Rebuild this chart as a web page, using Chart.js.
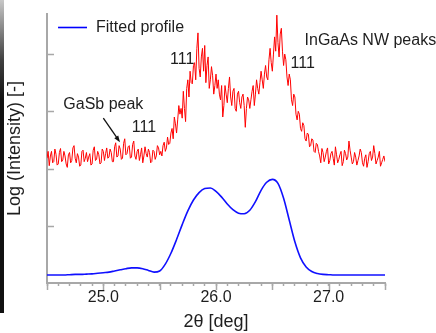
<!DOCTYPE html>
<html>
<head>
<meta charset="utf-8">
<script src="https://cdn.jsdelivr.net/npm/chart.js@4.4.1/dist/chart.umd.min.js"></script>
<style>
  html, body { margin: 0; padding: 0; background: #fff; }
  #wrap { position: relative; width: 436px; height: 333px; }
  #edge { position: absolute; left: 0; top: 0; width: 4px; height: 313px;
          background: linear-gradient(to bottom, #c8c8c8 0px, #404040 60px, #111 100px, #111 100%); }
</style>
</head>
<body>
<div id="wrap">
  <canvas id="grafico" width="436" height="333"></canvas>
  <div id="edge"></div>
</div>
<script>
// Dados (eixo y em unidades arbitrárias de log)
const start2Theta = 24.5;
const stepMeasured = 0.01;
const stepFit = 0.05;

// medido (vermelho), 24.50 .. 27.50 a cada 0.01
const measuredLog = [
  // 24.50 - 25.00
  2.18, 2.30, 2.05, 2.22, 2.30, 2.10, 2.12, 2.34, 2.25, 2.06,
  2.08, 2.28, 2.35, 2.12, 2.15, 2.30, 2.22, 2.08, 2.02, 2.24,
  2.28, 2.10, 2.14, 2.36, 2.40, 2.18, 2.10, 2.26, 2.20, 2.04,
  2.06, 2.30, 2.32, 2.12, 2.18, 2.28, 2.12, 2.20, 2.26, 2.06,
  2.08, 2.32, 2.38, 2.14, 2.16, 2.30, 2.24, 2.08, 2.10, 2.34, 2.30,
  // 25.01 - 25.50
  2.14, 2.26, 2.36, 2.18, 2.20, 2.34, 2.28, 2.12, 2.12, 2.38,
  2.45, 2.20, 2.22, 2.40, 2.34, 2.16, 2.18, 2.44, 2.52, 2.24,
  2.26, 2.38, 2.40, 2.18, 2.20, 2.42, 2.48, 2.22, 2.16, 2.30,
  2.34, 2.14, 2.24, 2.36, 2.10, 2.22, 2.38, 2.26, 2.20, 2.34,
  2.28, 2.10, 2.12, 2.32, 2.30, 2.16, 2.22, 2.40, 2.36, 2.24,
  // 25.51 - 25.70
  2.30, 2.22, 2.40, 2.46, 2.30, 2.36, 2.55, 2.42, 2.44, 2.62,
  2.70, 2.52, 2.90, 2.78, 2.62, 2.85, 3.10, 2.95, 3.05, 2.88,
  // 25.71 - 26.00
  3.35, 3.05, 2.82, 3.40, 3.55, 3.25, 3.70, 3.50, 3.48, 3.80,
  3.85, 3.55, 4.10, 4.37, 3.75, 3.60, 3.95, 4.10, 3.70, 4.15,
  3.50, 3.80, 3.95, 3.40, 3.55, 3.78, 3.62, 3.30, 3.45, 3.65,
  // 26.01 - 26.30
  3.40, 3.55, 3.30, 3.20, 3.45, 2.90, 3.10, 3.45, 3.30, 3.15,
  3.40, 3.60, 3.25, 3.10, 3.35, 3.40, 3.05, 3.00, 3.30, 3.35,
  3.15, 3.05, 3.25, 3.30, 3.10, 2.72, 3.05, 3.25, 3.20, 3.05,
  // 26.31 - 26.60
  3.20, 3.35, 3.45, 3.10, 3.30, 3.55, 3.40, 3.30, 3.50, 3.70,
  3.55, 3.40, 3.65, 3.80, 3.60, 3.55, 3.90, 4.10, 3.85, 3.70,
  4.00, 4.30, 4.05, 4.68, 4.20, 3.95, 4.35, 4.45, 4.05, 3.80,
  // 26.61 - 26.90
  4.00, 3.90, 3.60, 3.45, 3.65, 3.55, 3.20, 3.10, 3.30, 3.25,
  2.95, 2.85, 3.00, 2.95, 2.70, 2.65, 2.80, 2.75, 2.52, 2.48,
  2.62, 2.60, 2.38, 2.40, 2.52, 2.50, 2.30, 2.28, 2.44, 2.42,
  // 26.91 - 27.50
  2.30, 2.22, 2.10, 2.35, 2.28, 2.12, 2.20, 2.30, 2.36, 2.08,
  2.14, 2.26, 2.30, 2.18, 2.06, 2.38, 2.24, 2.10, 2.16, 2.24,
  2.30, 2.05, 2.12, 2.32, 2.26, 2.15, 2.20, 2.48, 2.32, 2.20,
  2.08, 2.12, 2.28, 2.20, 2.06, 2.14, 2.22, 2.34, 2.28, 2.10,
  2.04, 2.18, 2.24, 2.02, 2.12, 2.26, 2.30, 2.14, 2.20, 2.40,
  2.26, 2.08, 2.14, 2.20, 2.30, 2.04, 2.10, 2.16, 2.22, 2.12
];

// perfil ajustado (azul), 24.50 .. 27.50 a cada 0.05
const fittedLog = [
  0.14, 0.14, 0.14, 0.14, 0.145, 0.15, 0.15, 0.155, 0.16, 0.17,
  0.18, 0.19, 0.21, 0.23, 0.25, 0.265, 0.265, 0.25, 0.22, 0.19,
  0.21, 0.33, 0.52, 0.76, 1.02, 1.26, 1.45, 1.58, 1.65, 1.66,
  1.60, 1.50, 1.38, 1.28, 1.22, 1.21, 1.27, 1.42, 1.62, 1.76,
  1.81, 1.74, 1.48, 1.10, 0.72, 0.44, 0.28, 0.20, 0.165, 0.15,
  0.145, 0.14, 0.14, 0.14, 0.14, 0.14, 0.14, 0.14, 0.14, 0.14, 0.14
];

const xTickLabels = [25.0, 26.0, 27.0];
const yTickValues = [1, 2, 3, 4];

const axisGray = '#a8a8a8';
const textColor = '#1e1e1e';
const fontFamily = '"Liberation Sans", Arial, sans-serif';

// anotações em coordenadas dos dados
const notes = [
  { text: 'GaSb peak', x: 25.0, y: 3.11 },
  { text: '111', x: 25.36, y: 2.71 },
  { text: '111', x: 25.70, y: 3.91 },
  { text: '111', x: 26.77, y: 3.83 },
  { text: 'InGaAs NW peaks', x: 27.37, y: 4.24 }
];

function toPoints(values, step) {
  return values.map((v, i) => ({ x: +(start2Theta + i * step).toFixed(2), y: v }));
}

const decorations = {
  id: 'decorations',
  afterDraw(chart) {
    const { ctx, scales: { x, y } } = chart;
    ctx.save();
    ctx.strokeStyle = axisGray;
    ctx.lineWidth = 1.5;
    // ticks do eixo y, para dentro
    ctx.beginPath();
    yTickValues.forEach(v => {
      const py = Math.round(y.getPixelForValue(v)) + 0.5;
      ctx.moveTo(x.left, py);
      ctx.lineTo(x.left + 7, py);
    });
    // ticks maiores a cada 0.5
    x.ticks.forEach(t => {
      if (Math.abs(t.value * 2 - Math.round(t.value * 2)) < 1e-6) {
        const px = Math.round(x.getPixelForValue(t.value)) + 0.5;
        ctx.moveTo(px, y.bottom);
        ctx.lineTo(px, y.bottom + 7);
      }
    });
    ctx.stroke();

    ctx.fillStyle = textColor;
    ctx.font = '16px ' + fontFamily;
    ctx.textAlign = 'center';
    ctx.textBaseline = 'middle';
    notes.forEach(n => ctx.fillText(n.text, x.getPixelForValue(n.x), y.getPixelForValue(n.y)));

    // seta do GaSb
    const x0 = x.getPixelForValue(25.0), y0 = y.getPixelForValue(2.88);
    const x1 = x.getPixelForValue(25.148), y1 = y.getPixelForValue(2.46);
    const ang = Math.atan2(y1 - y0, x1 - x0);
    ctx.strokeStyle = '#111';
    ctx.lineWidth = 1.3;
    ctx.beginPath();
    ctx.moveTo(x0, y0);
    ctx.lineTo(x1 - 4 * Math.cos(ang), y1 - 4 * Math.sin(ang));
    ctx.stroke();
    ctx.fillStyle = '#111';
    ctx.beginPath();
    ctx.moveTo(x1, y1);
    ctx.lineTo(x1 - 7 * Math.cos(ang - 0.35), y1 - 7 * Math.sin(ang - 0.35));
    ctx.lineTo(x1 - 7 * Math.cos(ang + 0.35), y1 - 7 * Math.sin(ang + 0.35));
    ctx.closePath();
    ctx.fill();

    // legenda
    const ly = Math.round(y.getPixelForValue(4.47)) + 0.5;
    ctx.strokeStyle = '#0000ff';
    ctx.lineWidth = 1.6;
    ctx.beginPath();
    ctx.moveTo(x.getPixelForValue(24.598), ly);
    ctx.lineTo(x.getPixelForValue(24.855), ly);
    ctx.stroke();
    ctx.fillStyle = textColor;
    ctx.textAlign = 'left';
    ctx.fillText('Fitted profile', x.getPixelForValue(24.935), ly);
    ctx.restore();
  }
};

new Chart(document.getElementById('grafico'), {
  type: 'line',
  data: {
    datasets: [
      {
        label: 'Measured',
        data: toPoints(measuredLog, stepMeasured),
        borderColor: '#ff0000',
        borderWidth: 1,
        pointRadius: 0,
        tension: 0
      },
      {
        label: 'Fitted profile',
        data: toPoints(fittedLog, stepFit),
        borderColor: '#1010ff',
        borderWidth: 1.6,
        pointRadius: 0,
        cubicInterpolationMode: 'monotone'
      }
    ]
  },
  options: {
    responsive: false,
    animation: false,
    layout: { padding: { top: 14, right: 51, left: 0, bottom: 0 } },
    plugins: { legend: { display: false }, tooltip: { enabled: false } },
    scales: {
      x: {
        type: 'linear',
        min: 24.5,
        max: 27.5,
        afterFit: s => { s.height = 50; },
        border: { color: axisGray, width: 2 },
        grid: { drawOnChartArea: false, color: axisGray, tickLength: 3, tickWidth: 1.5 },
        ticks: {
          stepSize: 0.1,
          autoSkip: false,
          maxRotation: 0,
          padding: 2,
          color: textColor,
          font: { family: fontFamily, size: 16 },
          callback: v => xTickLabels.some(t => Math.abs(t - v) < 1e-6) ? v.toFixed(1) : ''
        },
        title: {
          display: true,
          text: '2θ [deg]',
          color: textColor,
          font: { family: fontFamily, size: 18 },
          padding: { top: 0, bottom: 0 }
        }
      },
      y: {
        min: 0,
        max: 4.7,
        afterFit: s => { s.width = 47; },
        border: { color: axisGray, width: 2 },
        grid: { display: false },
        ticks: { display: false },
        title: {
          display: true,
          text: 'Log (Intensity) [-]',
          color: textColor,
          font: { family: fontFamily, size: 18 },
          padding: { top: 4, bottom: 0 }
        }
      }
    }
  },
  plugins: [decorations]
});
</script>
</body>
</html>
